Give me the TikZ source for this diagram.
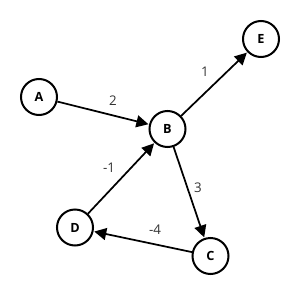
\documentclass[tikz,border=0pt]{standalone}
\usepackage{fontspec}
\setmainfont{Open Sans}
\usetikzlibrary{arrows.meta}
\begin{document}
\begin{tikzpicture}[
  x=0.75pt, y=-0.75pt,
  vertex/.style={draw, circle, line width=1.5pt, minimum size=27pt, inner sep=0pt, font=\fontsize{9.5}{10}\selectfont\bfseries},
  edge/.style={-{Triangle[length=9pt,width=9pt]}, line width=1.3pt, shorten >=0.5pt},
  weight/.style={font=\fontsize{10}{12}\selectfont, text=black!80}
]
\useasboundingbox (0,0) rectangle (300,300);

\node[vertex] (A) at (39,97) {A};
\node[vertex] (B) at (167.5,129) {B};
\node[vertex] (E) at (261,39) {E};
\node[vertex] (D) at (75,227.5) {D};
\node[vertex] (C) at (210.5,256) {C};

\draw[edge] (A) -- (B);
\draw[edge] (B) -- (E);
\draw[edge] (B) -- (C);
\draw[edge] (C) -- (D);
\draw[edge] (D) -- (B);

\node[weight] (wAB) at (113,101) {2};
\node[weight] (wBE) at (205,72) {1};
\node[weight] (wDB) at (109,168) {-1};
\node[weight] (wBC) at (198,188) {3};
\node[weight] (wCD) at (155,230) {-4};
\end{tikzpicture}
\end{document}
